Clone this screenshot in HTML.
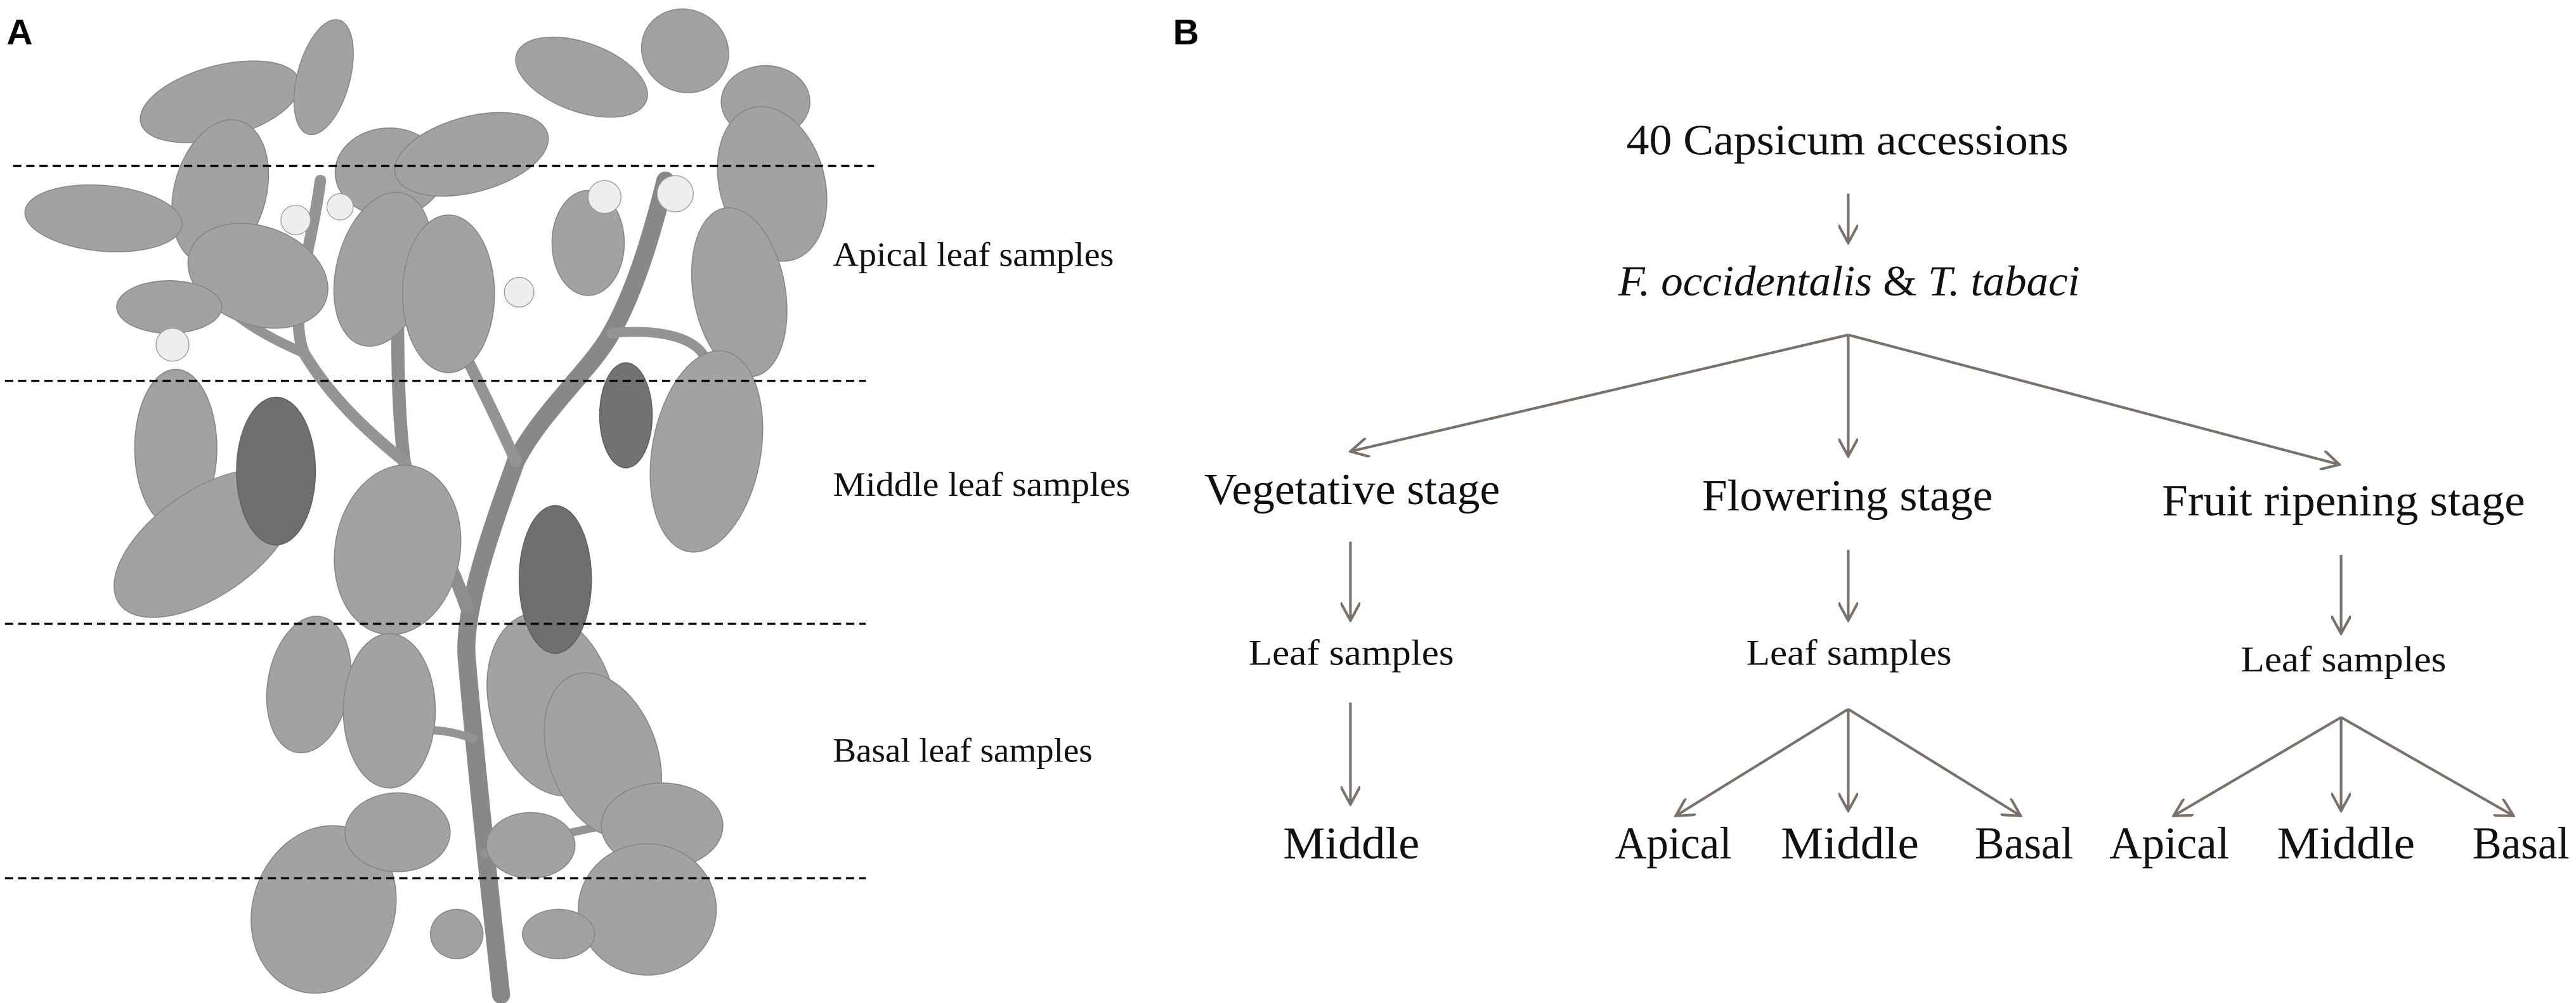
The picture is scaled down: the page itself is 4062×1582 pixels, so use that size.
<!DOCTYPE html>
<html><head><meta charset="utf-8"><style>
html,body{margin:0;padding:0;background:#fff;}
svg{display:block;}
</style></head><body>
<svg width="4062" height="1582" viewBox="0 0 1568 611" preserveAspectRatio="none" xmlns="http://www.w3.org/2000/svg">
<defs>
<marker id="ah" viewBox="0 0 12 12" refX="11" refY="6" markerWidth="12" markerHeight="12" markerUnits="userSpaceOnUse" orient="auto">
<path d="M0,0 L11,6 L0,12" fill="none" stroke="#7a716b" stroke-width="1.6"/>
</marker>
</defs>
<rect width="1568" height="611" fill="#fff"/>
<text x="4" y="27" font-family="'Liberation Sans', sans-serif" font-weight="bold" font-size="22" fill="#000">A</text>
<text x="714" y="27" font-family="'Liberation Sans', sans-serif" font-weight="bold" font-size="22" fill="#000">B</text>

<!-- plant -->
<g fill="none" stroke-linecap="round">
<path d="M305,606 C300,560 290,470 284,400 C282,370 300,320 314,281 C330,250 360,225 372,203 C385,180 395,150 405,110" stroke="#888" stroke-width="11"/>
<path d="M284,370 C270,330 250,300 246,281 C242,250 242,210 242,183" stroke="#8e8e8e" stroke-width="8"/>
<path d="M246,281 C220,260 200,240 185,215 C175,190 190,150 195,110" stroke="#949494" stroke-width="7"/>
<path d="M314,281 C300,250 285,220 270,190" stroke="#949494" stroke-width="7"/>
<path d="M372,203 C400,200 425,205 430,220" stroke="#949494" stroke-width="6"/>
<path d="M185,215 C150,200 130,185 120,160" stroke="#949494" stroke-width="6"/>
<path d="M288,450 C260,440 240,445 230,460" stroke="#949494" stroke-width="5"/>
<path d="M295,520 C330,510 360,505 380,500" stroke="#949494" stroke-width="5"/>
</g>
<g fill="#a2a2a2" stroke="#858585" stroke-width="0.6">
<ellipse cx="134" cy="62" rx="50" ry="22" transform="rotate(-15 134 62)"/>
<ellipse cx="197" cy="47" rx="16" ry="36" transform="rotate(15 197 47)"/>
<ellipse cx="134" cy="117" rx="28" ry="45" transform="rotate(15 134 117)"/>
<ellipse cx="63" cy="133" rx="48" ry="20" transform="rotate(5 63 133)"/>
<ellipse cx="157" cy="168" rx="44" ry="30" transform="rotate(20 157 168)"/>
<ellipse cx="103" cy="187" rx="32" ry="16"/>
<ellipse cx="107" cy="273" rx="25" ry="48"/>
<ellipse cx="125" cy="331" rx="64" ry="32" transform="rotate(-35 125 331)"/>
<ellipse cx="237" cy="105" rx="33" ry="27"/>
<ellipse cx="233" cy="164" rx="28" ry="48" transform="rotate(15 233 164)"/>
<ellipse cx="287" cy="94" rx="48" ry="23" transform="rotate(-15 287 94)"/>
<ellipse cx="273" cy="179" rx="28" ry="48"/>
<ellipse cx="354" cy="47" rx="42" ry="21" transform="rotate(20 354 47)"/>
<ellipse cx="417" cy="31" rx="27" ry="25" transform="rotate(30 417 31)"/>
<ellipse cx="466" cy="62" rx="27" ry="22"/>
<ellipse cx="470" cy="112" rx="32" ry="48" transform="rotate(-15 470 112)"/>
<ellipse cx="450" cy="178" rx="28" ry="52" transform="rotate(-10 450 178)"/>
<ellipse cx="358" cy="148" rx="22" ry="32"/>
<ellipse cx="430" cy="275" rx="33" ry="62" transform="rotate(10 430 275)"/>
<ellipse cx="242" cy="335" rx="38" ry="52" transform="rotate(10 242 335)"/>
<ellipse cx="188" cy="417" rx="25" ry="42" transform="rotate(10 188 417)"/>
<ellipse cx="237" cy="433" rx="28" ry="47"/>
<ellipse cx="336" cy="429" rx="38" ry="57" transform="rotate(-15 336 429)"/>
<ellipse cx="367" cy="460" rx="33" ry="52" transform="rotate(-20 367 460)"/>
<ellipse cx="197" cy="554" rx="43" ry="52" transform="rotate(20 197 554)"/>
<ellipse cx="242" cy="507" rx="32" ry="24"/>
<ellipse cx="403" cy="503" rx="37" ry="26"/>
<ellipse cx="394" cy="554" rx="42" ry="40"/>
<ellipse cx="323" cy="515" rx="27" ry="20"/>
<ellipse cx="278" cy="569" rx="16" ry="15"/>
<ellipse cx="340" cy="569" rx="22" ry="15"/>
</g>
<g stroke="#5e5e5e" stroke-width="0.6">
<ellipse cx="168" cy="287" rx="24" ry="45" fill="#6f6f6f"/>
<ellipse cx="338" cy="353" rx="22" ry="45" fill="#6f6f6f"/>
<ellipse cx="381" cy="253" rx="16" ry="32" fill="#727272"/>
</g>
<g fill="#eee" stroke="#999" stroke-width="0.5">
<circle cx="180" cy="134" r="9"/><circle cx="207" cy="126" r="8"/><circle cx="368" cy="120" r="10"/><circle cx="411" cy="118" r="11"/><circle cx="316" cy="178" r="9"/><circle cx="105" cy="210" r="10"/>
</g>

<!-- dashed lines -->
<g stroke="#000" stroke-width="1.3" stroke-dasharray="5,3">
<line x1="8" y1="101" x2="532" y2="101"/>
<line x1="3" y1="232" x2="527" y2="232"/>
<line x1="3" y1="380" x2="527" y2="380"/>
<line x1="3" y1="535" x2="527" y2="535"/>
</g>
<g font-family="'Liberation Serif', serif" font-size="21" fill="#111">
<text x="507" y="162" textLength="171" lengthAdjust="spacingAndGlyphs">Apical leaf samples</text>
<text x="507" y="302" textLength="181" lengthAdjust="spacingAndGlyphs">Middle leaf samples</text>
<text x="507" y="464" textLength="158" lengthAdjust="spacingAndGlyphs">Basal leaf samples</text>
</g>

<!-- panel B -->
<g font-family="'Liberation Serif', serif" fill="#111">
<text x="990" y="94" font-size="26" textLength="269" lengthAdjust="spacingAndGlyphs">40 Capsicum accessions</text>
<text x="985" y="180" font-size="26" textLength="281" lengthAdjust="spacingAndGlyphs"><tspan font-style="italic">F. occidentalis</tspan> &amp; <tspan font-style="italic">T. tabaci</tspan></text>
<text x="733" y="307" font-size="27" textLength="180" lengthAdjust="spacingAndGlyphs">Vegetative stage</text>
<text x="1036" y="311" font-size="27" textLength="177" lengthAdjust="spacingAndGlyphs">Flowering stage</text>
<text x="1316" y="314" font-size="27" textLength="221" lengthAdjust="spacingAndGlyphs">Fruit ripening stage</text>
<text x="760" y="405" font-size="22" textLength="125" lengthAdjust="spacingAndGlyphs">Leaf samples</text>
<text x="1063" y="405" font-size="22" textLength="125" lengthAdjust="spacingAndGlyphs">Leaf samples</text>
<text x="1364" y="409" font-size="22" textLength="125" lengthAdjust="spacingAndGlyphs">Leaf samples</text>
<text x="781" y="523" font-size="28" textLength="83" lengthAdjust="spacingAndGlyphs">Middle</text>
<text x="983" y="523" font-size="28" textLength="71" lengthAdjust="spacingAndGlyphs">Apical</text>
<text x="1084" y="523" font-size="28" textLength="84" lengthAdjust="spacingAndGlyphs">Middle</text>
<text x="1202" y="523" font-size="28" textLength="60" lengthAdjust="spacingAndGlyphs">Basal</text>
<text x="1284" y="523" font-size="28" textLength="73" lengthAdjust="spacingAndGlyphs">Apical</text>
<text x="1386" y="523" font-size="28" textLength="84" lengthAdjust="spacingAndGlyphs">Middle</text>
<text x="1505" y="523" font-size="28" textLength="59" lengthAdjust="spacingAndGlyphs">Basal</text>
</g>
<g stroke="#7a716b" stroke-width="1.6" fill="none" marker-end="url(#ah)">
<line x1="1125" y1="118" x2="1125" y2="148"/>
<line x1="1125" y1="204" x2="822" y2="275"/>
<line x1="1125" y1="204" x2="1125" y2="278"/>
<line x1="1125" y1="204" x2="1424" y2="283"/>
<line x1="822" y1="330" x2="822" y2="378"/>
<line x1="1125" y1="335" x2="1125" y2="378"/>
<line x1="1425" y1="338" x2="1425" y2="386"/>
<line x1="822" y1="428" x2="822" y2="490"/>
<line x1="1125" y1="432" x2="1020" y2="497"/>
<line x1="1125" y1="432" x2="1125" y2="494"/>
<line x1="1125" y1="432" x2="1230" y2="497"/>
<line x1="1425" y1="437" x2="1323" y2="497"/>
<line x1="1425" y1="437" x2="1425" y2="494"/>
<line x1="1425" y1="437" x2="1530" y2="497"/>
</g>
</svg>
</body></html>
